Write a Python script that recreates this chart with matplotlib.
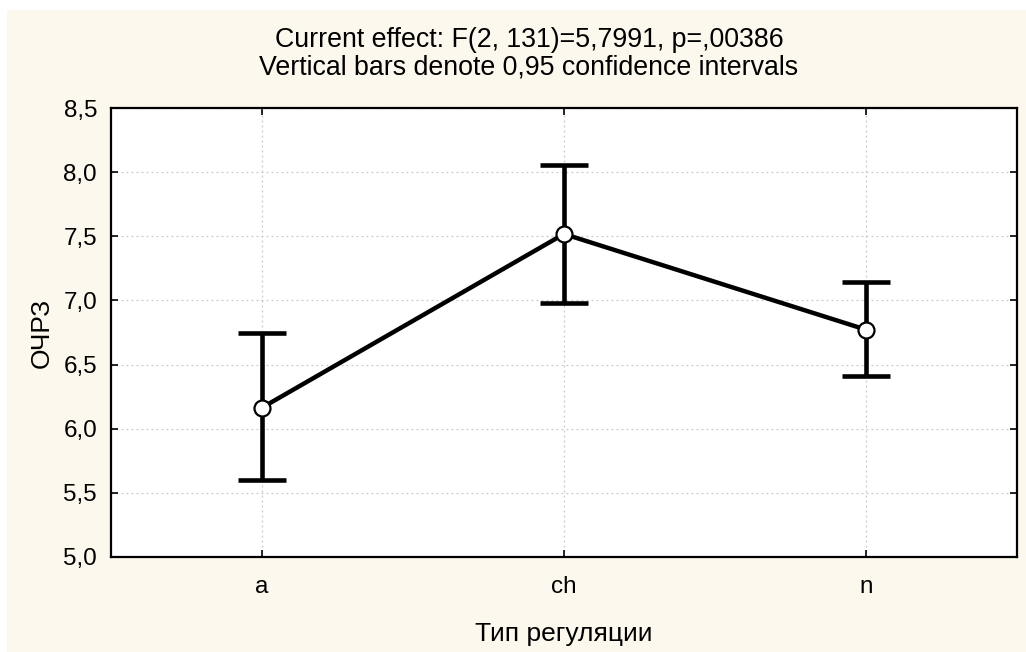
import matplotlib.pyplot as plt
from matplotlib.patches import Rectangle
from matplotlib.ticker import FuncFormatter

groups = ["a", "ch", "n"]
means = [6.164, 7.518, 6.772]
ci_low = [5.598, 6.978, 6.411]
ci_high = [6.744, 8.053, 7.141]

title_lines = ["Current effect: F(2, 131)=5,7991, p=,00386",
               "Vertical bars denote 0,95 confidence intervals"]

plt.rcParams['font.family'] = ['Liberation Sans', 'DejaVu Sans']

fig = plt.figure(figsize=(10.26, 6.52), dpi=100)
fig.patch.set_facecolor("white")
# cream panel behind the plot
fig.patches.append(Rectangle((7 / 1026, 0), 1 - 7 / 1026, 1 - 10 / 652,
                             transform=fig.transFigure, facecolor="#fdf8ed",
                             edgecolor="none", zorder=-10))

ax = fig.add_axes([111 / 1026, 1 - 557 / 652, 906 / 1026, 449 / 652])
ax.set_facecolor("white")

x = list(range(len(groups)))
err_lo = [m - l for m, l in zip(means, ci_low)]
err_hi = [h - m for m, h in zip(means, ci_high)]

ax.errorbar(x, means, yerr=[err_lo, err_hi], fmt="none", ecolor="black",
            elinewidth=3.3, capsize=17, capthick=3.3, zorder=3)
ax.plot(x, means, color="black", lw=3.2, marker="o", markersize=11.5,
        markerfacecolor="white", markeredgecolor="black",
        markeredgewidth=1.6, zorder=4)

ax.set_xlim(-0.5, 2.5)
ax.set_ylim(5.0, 8.5)
ax.set_xticks(x)
ax.set_xticklabels(groups)
ax.set_yticks([5.0, 5.5, 6.0, 6.5, 7.0, 7.5, 8.0, 8.5])
ax.yaxis.set_major_formatter(FuncFormatter(lambda v, _: f"{v:.1f}".replace(".", ",")))

ax.grid(True, color="#c8c8c8", linestyle=(0, (1.5, 2.5)), linewidth=0.9)
ax.set_axisbelow(True)
ax.tick_params(direction="in", length=5, width=1.2, top=True, right=True,
               labelsize=17.5, colors="black")
ax.tick_params(axis="x", pad=14)
ax.tick_params(axis="y", pad=10)
for s in ax.spines.values():
    s.set_linewidth(1.6)
    s.set_color("black")

ax.set_ylabel("ОЧРЗ", fontsize=19, labelpad=7)
ax.set_xlabel("Тип регуляции", fontsize=19, labelpad=17)

# two-line header above the axes
fig.text(529 / 1026, 1 - 40 / 652, title_lines[0],
         ha="center", va="center", fontsize=19.3)
fig.text(529 / 1026, 1 - 68 / 652, title_lines[1],
         ha="center", va="center", fontsize=19.3)

fig.savefig("out.png", dpi=100)
